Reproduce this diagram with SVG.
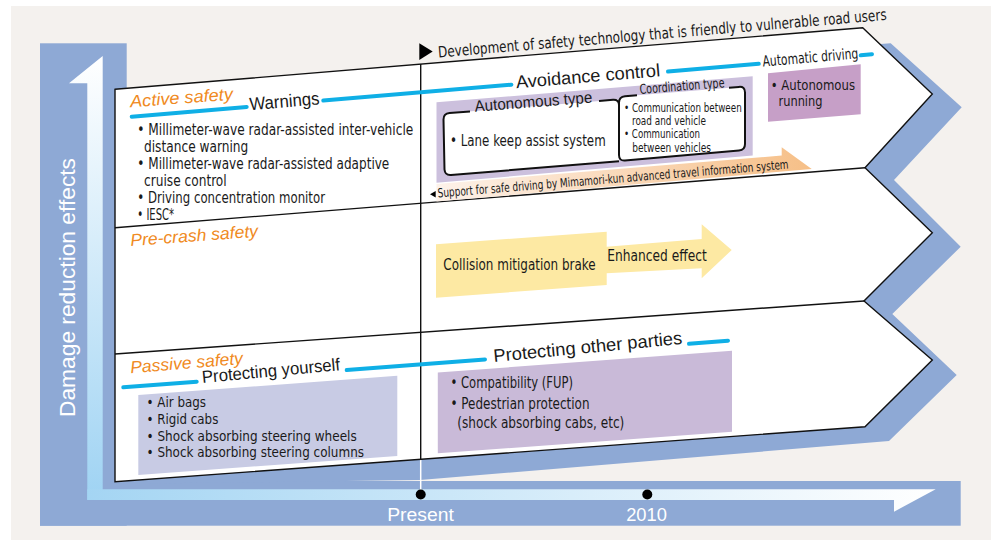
<svg xmlns="http://www.w3.org/2000/svg" width="991" height="541" viewBox="0 0 991 541">
  <defs>
    <style>
      .cd { font-family: "Liberation Sans Narrow", "DejaVu Sans Condensed", "Liberation Sans", Arial, sans-serif; fill: #1a1a1a; }
      .rg { font-family: "Liberation Sans", Arial, sans-serif; fill: #1a1a1a; }
      .org { font-family: "Liberation Sans", Arial, sans-serif; font-style: italic; fill: #f08a22; }
      .wt { font-family: "Liberation Sans", Arial, sans-serif; fill: #ffffff; }
      .frame { fill: #8ea9d5; }
      .edge { fill: none; stroke: #111; stroke-width: 1.4; }
      .bracket { fill: none; stroke: #111; stroke-width: 2; stroke-linejoin: round; }
      .cyan { fill: none; stroke: #0fafe6; stroke-width: 4; stroke-linecap: round; }
    </style>
    <linearGradient id="upGrad" x1="0" y1="56" x2="0" y2="500" gradientUnits="userSpaceOnUse">
      <stop offset="0" stop-color="#ffffff"/>
      <stop offset="1" stop-color="#9fd3f3"/>
    </linearGradient>
    <linearGradient id="rightGrad" x1="87" y1="0" x2="935" y2="0" gradientUnits="userSpaceOnUse">
      <stop offset="0" stop-color="#a4d5f3"/>
      <stop offset="1" stop-color="#ffffff"/>
    </linearGradient>
    <linearGradient id="peachGrad" x1="436" y1="0" x2="812" y2="0" gradientUnits="userSpaceOnUse">
      <stop offset="0" stop-color="#fdf2ea"/>
      <stop offset="1" stop-color="#f6bf87"/>
    </linearGradient>
  </defs>

  <!-- page -->
  <rect x="11" y="6" width="980" height="534" fill="#f4f1ee"/>

  <!-- axis frame -->
  <g id="axes">
    <rect class="frame" x="40" y="43.3" width="86.7" height="482.4"/>
    <rect class="frame" x="40" y="481" width="920.7" height="44.7"/>
    <!-- drop shadow of the chevron panel -->
    <polygon class="frame" points="110,100 890.7,43.3 961.7,107.3 894,180 960.7,246.7 892.3,314 956.7,375 889,441 420,480 110,484"/>
    <!-- vertical axis arrow -->
    <polygon fill="url(#upGrad)" points="102.7,56 69,83.3 87.3,83.3 87.3,500 102.7,500 102.7,56"/>
    <!-- horizontal axis arrow -->
    <polygon fill="url(#rightGrad)" points="87.3,489.3 935.7,489.3 894,511.7 894,500 87.3,500"/>
    <line x1="420.7" y1="459" x2="420.7" y2="494.5" stroke="#ffffff" stroke-width="1.5"/>
    <text class="wt" transform="translate(75,417) rotate(-90)" font-size="22.5" textLength="259" lengthAdjust="spacingAndGlyphs">Damage reduction effects</text>
    <circle cx="420.7" cy="494.5" r="5" fill="#000"/>
    <circle cx="647.3" cy="494.5" r="5" fill="#000"/>
    <text class="wt" x="420.5" y="521" font-size="18" text-anchor="middle" textLength="66.7" lengthAdjust="spacingAndGlyphs">Present</text>
    <text class="wt" x="646.5" y="521" font-size="18" text-anchor="middle" textLength="40.7" lengthAdjust="spacingAndGlyphs">2010</text>
  </g>

  <!-- chevron panel with three rows -->
  <g id="panel">
    <polygon fill="#ffffff" stroke="#111" stroke-width="1.4" stroke-linejoin="miter" points="115,89.3 862.7,27.7 932.3,94 865,167.7 932.3,232.7 864,301 932.3,360 865,426.7 115,481.7"/>
    <line class="edge" x1="115" y1="227.7" x2="865" y2="167.7"/>
    <line class="edge" x1="115" y1="354" x2="864" y2="301"/>
    <line class="edge" x1="420.7" y1="64.1" x2="420.7" y2="459.3"/>
  </g>

  <!-- heading -->
  <g id="heading">
    <polygon points="419.3,43.3 419.3,60 432.7,51.6" fill="#000"/>
    <text class="cd" transform="translate(438.5,57.5) rotate(-4.8)" font-size="15.5" textLength="450" lengthAdjust="spacingAndGlyphs">Development of safety technology that is friendly to vulnerable road users</text>
  </g>

  <!-- timeline lines broken by their labels -->
  <g id="connectors">
    <line class="cyan" x1="131.7" y1="116.7" x2="246.7" y2="107"/>
    <line class="cyan" x1="323.3" y1="100.55" x2="511.4" y2="84.69"/>
    <line class="cyan" x1="668" y1="71.49" x2="758.8" y2="63.84"/>
    <line class="cyan" x1="860.7" y1="55.25" x2="872" y2="54.29"/>
    <line class="cyan" x1="123.3" y1="387.3" x2="196.7" y2="381.65"/>
    <line class="cyan" x1="346.7" y1="370.1" x2="485" y2="359.45"/>
    <line class="cyan" x1="689" y1="343.74" x2="728" y2="340.74"/>
  </g>

  <!-- active safety row -->
  <g id="active-safety">
    <text class="org" transform="translate(130.5,107.3) rotate(-4.3)" font-size="17" textLength="103" lengthAdjust="spacingAndGlyphs">Active safety</text>
    <text class="rg" transform="translate(250,110.2) rotate(-4.8)" font-size="18" textLength="70" lengthAdjust="spacingAndGlyphs">Warnings</text>
    <text class="cd" x="137.3" y="135" font-size="15" textLength="276" lengthAdjust="spacingAndGlyphs">• Millimeter-wave radar-assisted inter-vehicle</text>
    <text class="cd" x="144" y="151.7" font-size="15" textLength="104.3" lengthAdjust="spacingAndGlyphs">distance warning</text>
    <text class="cd" x="137.3" y="169.3" font-size="15" textLength="252" lengthAdjust="spacingAndGlyphs">• Millimeter-wave radar-assisted adaptive</text>
    <text class="cd" x="144" y="186" font-size="15" textLength="82.7" lengthAdjust="spacingAndGlyphs">cruise control</text>
    <text class="cd" x="137.3" y="203.3" font-size="15" textLength="187.7" lengthAdjust="spacingAndGlyphs">• Driving concentration monitor</text>
    <text class="cd" x="137.3" y="220" font-size="15" textLength="36.7" lengthAdjust="spacingAndGlyphs">• IESC*</text>
  </g>

  <g id="mimamori-support">
    <polygon fill="url(#peachGrad)" points="436.5,184 781.7,155.5 781.7,147.3 811.7,169 436.5,201.5"/>
  </g>

  <g id="avoidance-control">
    <polygon fill="#ccc0dd" points="436.5,102.3 752.7,76.3 752.7,155.5 436.5,182.7"/>
    <text class="rg" transform="translate(516.5,88.3) rotate(-4.8)" font-size="18" textLength="144.5" lengthAdjust="spacingAndGlyphs">Avoidance control</text>
  </g>

  <g id="autonomous-type">
    <path fill="#ffffff" d="M449.5,113 L619,99.4 L619,161.2 L451,175 Q445,175.5 444.5,169.5 L443.5,119.5 Q443.5,113.5 449.5,113 Z"/>
    <path class="bracket" d="M470,111.4 L449.5,113 Q443.5,113.5 443.5,119.5 L444.5,169.5 Q445,175.5 451,175 L619,161.2"/>
    <path class="bracket" d="M599,100.9 L613,99.8 Q619,99.4 619,105"/>
    <text class="rg" transform="translate(475,111.7) rotate(-4.4)" font-size="16" textLength="118" lengthAdjust="spacingAndGlyphs">Autonomous type</text>
    <text class="cd" x="450" y="146" font-size="15.5" textLength="155.7" lengthAdjust="spacingAndGlyphs">• Lane keep assist system</text>
  </g>

  <g id="coordination-type">
    <path fill="#ffffff" d="M625,96.2 L739,86.9 Q745,86.4 745,92.4 L745,144 Q745,150 739,150.6 L625,160.5 Q619,161 619,155 L619,102.7 Q619,96.7 625,96.2 Z"/>
    <path class="bracket" d="M637,95.2 L625,96.2 Q619,96.7 619,102.7 L619,155 Q619,161 625,160.5 L739,150.6 Q745,150 745,144 L745,92.4 Q745,86.4 739,86.9 L729,87.7"/>
    <text class="cd" transform="translate(640,94) rotate(-4.6)" font-size="13.5" textLength="85" lengthAdjust="spacingAndGlyphs">Coordination type</text>
    <text class="cd" x="624" y="112.3" font-size="12" textLength="117.7" lengthAdjust="spacingAndGlyphs">• Communication between</text>
    <text class="cd" x="632" y="125" font-size="12" textLength="74" lengthAdjust="spacingAndGlyphs">road and vehicle</text>
    <text class="cd" x="624" y="138.3" font-size="12" textLength="76" lengthAdjust="spacingAndGlyphs">• Communication</text>
    <text class="cd" x="632.3" y="151.7" font-size="12" textLength="78.7" lengthAdjust="spacingAndGlyphs">between vehicles</text>
  </g>

  <g id="mimamori-label">
    <polygon points="430,194.2 435.7,191 435.7,197.4" fill="#000"/>
    <text class="cd" transform="translate(438,197.5) rotate(-4.7)" font-size="12.5" textLength="352" lengthAdjust="spacingAndGlyphs">Support for safe driving by Mimamori-kun advanced travel information system</text>
  </g>

  <g id="automatic-driving">
    <text class="cd" transform="translate(763,66.5) rotate(-4.8)" font-size="15" textLength="96" lengthAdjust="spacingAndGlyphs">Automatic driving</text>
    <polygon fill="#c69fc7" points="768,73.3 860.7,64.3 860.7,114.3 768,121.7"/>
    <text class="cd" x="770.7" y="90" font-size="14" textLength="84.3" lengthAdjust="spacingAndGlyphs">• Autonomous</text>
    <text class="cd" x="778.5" y="106" font-size="14" textLength="44" lengthAdjust="spacingAndGlyphs">running</text>
  </g>

  <!-- pre-crash safety row -->
  <g id="pre-crash-safety">
    <text class="org" transform="translate(130.7,246) rotate(-4.2)" font-size="17" textLength="128" lengthAdjust="spacingAndGlyphs">Pre-crash safety</text>
    <polygon fill="#fde9a3" points="436,244.3 606.7,231.7 606.7,246.7 701.7,239 701.7,224.3 731.7,250 701.7,278.3 701.7,268.3 606.7,273.3 606.7,285 436,297.7"/>
    <text class="cd" x="443.3" y="270" font-size="15" textLength="152.4" lengthAdjust="spacingAndGlyphs">Collision mitigation brake</text>
    <text class="cd" x="607.3" y="261" font-size="15" textLength="99.4" lengthAdjust="spacingAndGlyphs">Enhanced effect</text>
  </g>

  <!-- passive safety row -->
  <g id="passive-safety">
    <text class="org" transform="translate(130.7,373.3) rotate(-4.8)" font-size="17" textLength="113" lengthAdjust="spacingAndGlyphs">Passive safety</text>
    <text class="rg" transform="translate(202.5,383) rotate(-5.3)" font-size="17.5" textLength="138.5" lengthAdjust="spacingAndGlyphs">Protecting yourself</text>
    <text class="rg" transform="translate(494,362) rotate(-5.5)" font-size="18" textLength="189.5" lengthAdjust="spacingAndGlyphs">Protecting other parties</text>
  </g>

  <g id="protecting-yourself">
    <polygon fill="#c8cbe4" points="138.3,395 397.3,375.7 397.3,456 138.3,475"/>
    <text class="cd" x="146.5" y="406.7" font-size="14.5" textLength="59.5" lengthAdjust="spacingAndGlyphs">• Air bags</text>
    <text class="cd" x="146.5" y="424" font-size="14.5" textLength="71.8" lengthAdjust="spacingAndGlyphs">• Rigid cabs</text>
    <text class="cd" x="146.5" y="440.7" font-size="14.5" textLength="210.2" lengthAdjust="spacingAndGlyphs">• Shock absorbing steering wheels</text>
    <text class="cd" x="146.5" y="456.7" font-size="14.5" textLength="217.5" lengthAdjust="spacingAndGlyphs">• Shock absorbing steering columns</text>
  </g>

  <g id="protecting-others">
    <polygon fill="#c9bad8" points="437.8,372.5 732,350.7 732,431.7 437.8,453.3"/>
    <text class="cd" x="450.5" y="388.3" font-size="15" textLength="122.5" lengthAdjust="spacingAndGlyphs">• Compatibility (FUP)</text>
    <text class="cd" x="450.5" y="408.8" font-size="15" textLength="139" lengthAdjust="spacingAndGlyphs">• Pedestrian protection</text>
    <text class="cd" x="457.3" y="427.8" font-size="15" textLength="167" lengthAdjust="spacingAndGlyphs">(shock absorbing cabs, etc)</text>
  </g>
</svg>
